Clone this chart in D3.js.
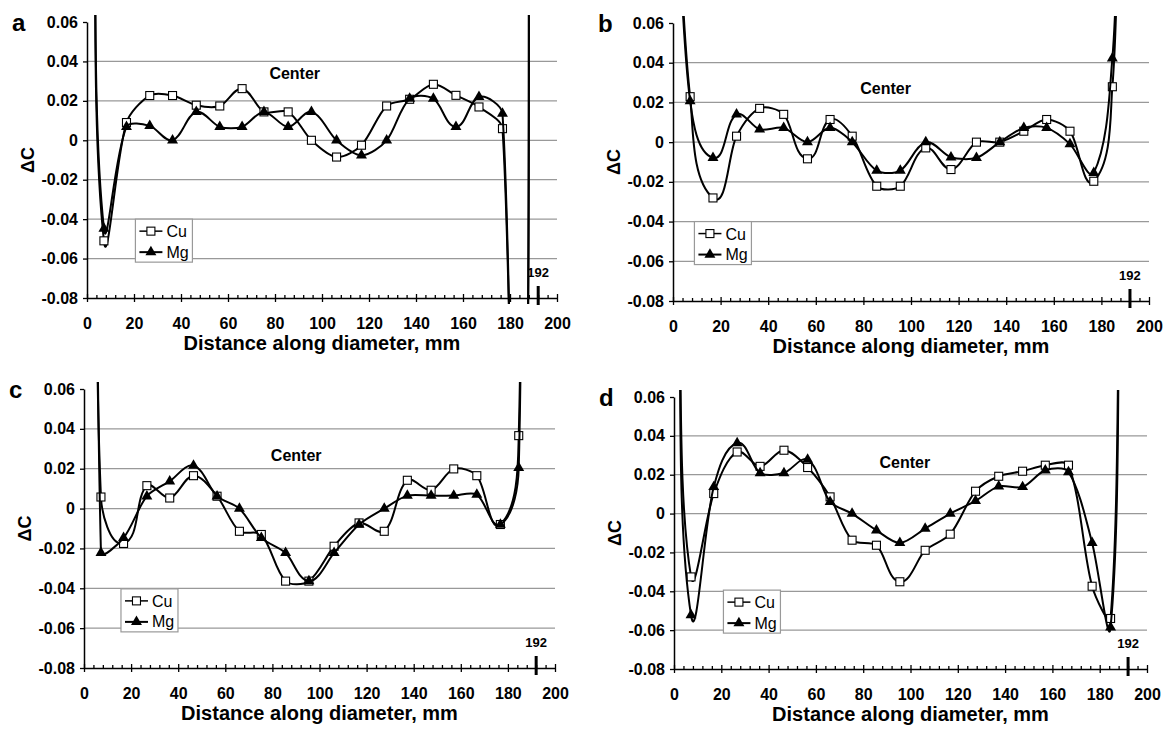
<!DOCTYPE html>
<html>
<head>
<meta charset="utf-8">
<script src="https://cdn.jsdelivr.net/npm/d3@7"></script>
<style>
  body { margin: 0; background: #fff; }
  svg { display: block; font-family: Arial, "Liberation Sans", sans-serif; }
</style>
</head>
<body>
<svg id="chart" width="1164" height="731"></svg>
<script>
// measured positions along the diameter (mm)
const distance = [7.2, 16.8, 26.7, 36.4, 46.5, 56.5, 66.0, 75.3, 85.6, 95.5, 106.2, 116.8, 127.5, 137.3, 147.4, 157.0, 166.8, 176.8, 184.6]

// delta C per panel (a, b, c, d)
const cuA = [-0.051, 0.009, 0.0227, 0.0227, 0.0178, 0.0174, 0.0262, 0.0144, 0.0144, 0.0, -0.0085, -0.0025, 0.0174, 0.0208, 0.0284, 0.0228, 0.0169, 0.0059, -0.30]
const mgA = [-0.0448, 0.0068, 0.0073, 0.0, 0.0144, 0.0068, 0.0068, 0.0144, 0.0068, 0.0144, 0.0, -0.0076, 0.0, 0.0211, 0.0211, 0.0068, 0.022, 0.0135, -0.30]
const cuB = [0.0229, -0.0281, 0.003, 0.017, 0.014, -0.0084, 0.0114, 0.003, -0.0222, -0.0222, -0.0029, -0.0138, 0.0, 0.0, 0.0055, 0.0114, 0.0055, -0.0197, 0.0279]
const mgB = [0.0207, -0.0079, 0.014, 0.0064, 0.0072, 0.0, 0.0072, 0.0, -0.0143, -0.0143, 0.0, -0.0076, -0.0079, 0.0, 0.0072, 0.0072, -0.001, -0.0155, 0.0422]
const cuC = [0.0058, -0.0175, 0.0115, 0.0053, 0.0165, 0.0062, -0.0114, -0.013, -0.0364, -0.0364, -0.0189, -0.0072, -0.0114, 0.0142, 0.0092, 0.0199, 0.0165, -0.008, 0.0366]
const mgC = [-0.0222, -0.0147, 0.0062, 0.0137, 0.0216, 0.0062, 0.0, -0.0147, -0.0222, -0.0364, -0.0222, -0.008, 0.0, 0.0065, 0.0065, 0.0065, 0.007, -0.008, 0.0204]
const cuD = [-0.0326, 0.0103, 0.0317, 0.0243, 0.0326, 0.0237, 0.0086, -0.0137, -0.0163, -0.0351, -0.0189, -0.0106, 0.0115, 0.0192, 0.0218, 0.0249, 0.0249, -0.0374, -0.054]
const mgD = [-0.0523, 0.0137, 0.0363, 0.0209, 0.0209, 0.0278, 0.006, 0.0, -0.0086, -0.0151, -0.0077, 0.0, 0.0065, 0.014, 0.0137, 0.0223, 0.0214, -0.0151, -0.0586]

// edge readings (off scale, only their lines show)
const leadInX = [3, 1.5, 5, 2]
const cuLeadIn = [0.16, 0.13, 0.30, 0.12]
const mgLeadIn = [0.16, 0.13, 0.55, 0.13]
const leadOutX = [188, 187.5, 186, 188.5]
const cuLeadOut = [0.40, 0.13, 0.40, 0.14]
const mgLeadOut = [0.40, 0.13, 0.40, 0.14]

const yTicks = [-0.08, -0.06, -0.04, -0.02, 0, 0.02, 0.04, 0.06]
const gridTicks = [-0.06, -0.04, -0.02, 0, 0.02, 0.04]
const xTicks = [0, 20, 40, 60, 80, 100, 120, 140, 160, 180, 200]
const minorTicks = d3.range(0, 201, 4).filter(v => v % 20)
const edgeMark = 192

const cuSeries = [cuA, cuB, cuC, cuD]
const mgSeries = [mgA, mgB, mgC, mgD]

const layout = [
  { key: 'a', left: 87, right: 557, top: 22, bottom: 298, center: [88.4, 0.031], legend: [20.6, -0.040] },
  { key: 'b', left: 673, right: 1149, top: 23, bottom: 301, center: [89.3, 0.024], legend: [9.0, -0.040] },
  { key: 'c', left: 84, right: 555, top: 389, bottom: 668, center: [90.1, 0.0237], legend: [15.7, -0.0403] },
  { key: 'd', left: 674, right: 1147, top: 397, bottom: 669, center: [97.6, 0.0237], legend: [20.9, -0.0394] }
]

const svg = d3.select('#chart')
const defs = svg.append('defs')
const fmt = d => d === 0 ? '0' : d.toFixed(2)
const tri = d3.symbol(d3.symbolTriangle, 52)

// spreadsheet-style smoothing: bezier arms follow the neighbour direction,
// their length scales with the segment itself
function smooth(context) {
  let pts = []
  const k = 0.28
  return {
    areaStart() {}, areaEnd() {},
    lineStart() { pts = [] },
    point(x, y) { pts.push([+x, +y]) },
    lineEnd() {
      const n = pts.length
      if (!n) return
      context.moveTo(pts[0][0], pts[0][1])
      const tan = pts.map((p, i) => {
        const a = pts[Math.max(i - 1, 0)], b = pts[Math.min(i + 1, n - 1)]
        const dx = b[0] - a[0], dy = b[1] - a[1], l = Math.hypot(dx, dy) || 1
        return [dx / l, dy / l]
      })
      for (let i = 0; i < n - 1; i++) {
        const p = pts[i], q = pts[i + 1]
        const L = Math.hypot(q[0] - p[0], q[1] - p[1]) * k
        context.bezierCurveTo(
          p[0] + tan[i][0] * L, p[1] + tan[i][1] * L,
          q[0] - tan[i + 1][0] * L, q[1] - tan[i + 1][1] * L,
          q[0], q[1])
      }
    }
  }
}

function series(vals, i, inV, outV) {
  return [[leadInX[i], inV[i]]]
    .concat(distance.map((d, j) => [d, vals[j]]))
    .concat([[leadOutX[i], outV[i]]])
}

function styleAxis(sel) {
  sel.attr('font-family', null).attr('font-size', 16).attr('font-weight', 'bold')
  sel.selectAll('.domain').attr('stroke', '#000').attr('stroke-width', 1.5)
  sel.selectAll('.tick line').attr('stroke', '#000').attr('stroke-width', 1.3)
  sel.selectAll('.tick text').attr('fill', '#000')
}

layout.forEach((p, i) => {
  const g = svg.append('g')
  const x = d3.scaleLinear().domain([0, 200]).range([p.left, p.right])
  const y = d3.scaleLinear().domain([-0.08, 0.06]).range([p.bottom, p.top])
  const y0 = y(-0.08)

  // gridlines
  g.append('g').selectAll('line').data(gridTicks).join('line')
    .attr('x1', x(0)).attr('x2', x(200))
    .attr('y1', d => y(d)).attr('y2', d => y(d))
    .attr('stroke', '#999').attr('stroke-width', 1.3)

  // y axis
  g.append('g').attr('transform', `translate(${x(0)},0)`)
    .call(d3.axisLeft(y).tickValues(yTicks).tickSize(4).tickSizeOuter(0).tickPadding(5).tickFormat(fmt))
    .call(styleAxis)

  // x axis, minor then major ticks
  g.append('g').attr('transform', `translate(0,${y0})`)
    .call(d3.axisBottom(x).tickValues(minorTicks).tickSize(3).tickSizeOuter(0).tickFormat(''))
    .call(s => s.select('.domain').remove())
    .call(styleAxis)
    .call(s => s.selectAll('.tick line').attr('y1', -3).attr('y2', 1))
  g.append('g').attr('transform', `translate(0,${y0})`)
    .call(d3.axisBottom(x).tickValues(xTicks).tickSize(4).tickSizeOuter(0))
    .call(styleAxis)
    .call(s => s.selectAll('.tick line').attr('y1', -4).attr('y2', 4))
    .call(s => s.selectAll('.tick text').attr('y', 31).attr('dy', 0))

  // 192 mm mark
  g.append('line')
    .attr('x1', x(edgeMark)).attr('x2', x(edgeMark))
    .attr('y1', y0 - 12).attr('y2', y0 + 7)
    .attr('stroke', '#000').attr('stroke-width', 3)
  g.append('text')
    .attr('x', x(edgeMark)).attr('y', y0 - 21)
    .attr('text-anchor', 'middle').attr('font-size', 13).attr('font-weight', 'bold')
    .text(edgeMark)

  // titles
  g.append('text')
    .attr('x', (p.left + p.right) / 2).attr('y', y0 + 52)
    .attr('text-anchor', 'middle').attr('font-size', 20).attr('font-weight', 'bold')
    .text('Distance along diameter, mm')
  g.append('text')
    .attr('transform', `translate(${p.left - 53},${(p.top + p.bottom) / 2}) rotate(-90)`)
    .attr('text-anchor', 'middle').attr('font-size', 18).attr('font-weight', 'bold')
    .text('ΔC')
  g.append('text')
    .attr('x', p.left - 75).attr('y', p.top + 9)
    .attr('font-size', 24).attr('font-weight', 'bold')
    .text(p.key)
  g.append('text')
    .attr('x', x(p.center[0])).attr('y', y(p.center[1]))
    .attr('text-anchor', 'middle').attr('font-size', 16).attr('font-weight', 'bold')
    .text('Center')

  // data
  defs.append('clipPath').attr('id', 'clip-' + p.key).append('rect')
    .attr('x', p.left).attr('y', p.top - 7)
    .attr('width', p.right - p.left).attr('height', p.bottom - p.top + 13)

  const line = d3.line()
    .x(d => x(d[0])).y(d => y(d[1]))
    .curve(smooth)
  const inside = d => d[1] >= -0.08 && d[1] <= 0.06

  const cu = series(cuSeries[i], i, cuLeadIn, cuLeadOut)
  const mg = series(mgSeries[i], i, mgLeadIn, mgLeadOut)
  const plot = g.append('g').attr('clip-path', `url(#clip-${p.key})`)

  plot.append('path').datum(cu).attr('d', line)
    .attr('fill', 'none').attr('stroke', '#000').attr('stroke-width', 2)
  plot.append('g').selectAll('rect').data(cu.slice(1, -1).filter(inside)).join('rect')
    .attr('x', d => x(d[0]) - 4).attr('y', d => y(d[1]) - 4)
    .attr('width', 8).attr('height', 8)
    .attr('fill', '#fff').attr('stroke', '#000').attr('stroke-width', 1.1)

  plot.append('path').datum(mg).attr('d', line)
    .attr('fill', 'none').attr('stroke', '#000').attr('stroke-width', 2)
  plot.append('g').selectAll('path').data(mg.slice(1, -1).filter(inside)).join('path')
    .attr('transform', d => `translate(${x(d[0])},${y(d[1])})`)
    .attr('d', tri).attr('fill', '#000')

  // legend
  const lx = x(p.legend[0]), ly = y(p.legend[1])
  const leg = g.append('g').attr('transform', `translate(${lx},${ly})`)
  leg.append('rect').attr('width', 57).attr('height', 43)
    .attr('fill', '#fff').attr('stroke', '#999').attr('stroke-width', 1.2)
  leg.append('line').attr('x1', 4).attr('x2', 27).attr('y1', 12).attr('y2', 12)
    .attr('stroke', '#000').attr('stroke-width', 1.5)
  leg.append('rect').attr('x', 11.5).attr('y', 8).attr('width', 8).attr('height', 8)
    .attr('fill', '#fff').attr('stroke', '#000').attr('stroke-width', 1.1)
  leg.append('text').attr('x', 31).attr('y', 18).attr('font-size', 16).text('Cu')
  leg.append('line').attr('x1', 4).attr('x2', 27).attr('y1', 33).attr('y2', 33)
    .attr('stroke', '#000').attr('stroke-width', 2)
  leg.append('path').attr('transform', 'translate(15.5,33)').attr('d', tri).attr('fill', '#000')
  leg.append('text').attr('x', 31).attr('y', 38.5).attr('font-size', 16).text('Mg')
})
</script>
</body>
</html>
